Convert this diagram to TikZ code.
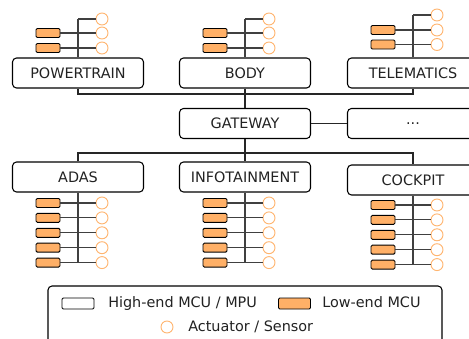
\documentclass[tikz,border=0pt]{standalone}
\usepackage{fontspec}
\setmainfont{DejaVu Sans}
\usepackage{tikz}
\usetikzlibrary{positioning}
\definecolor{mcuorange}{HTML}{FFB067}
\definecolor{sensororange}{HTML}{FFB570}
\definecolor{textgray}{HTML}{222222}

\begin{document}
\begin{tikzpicture}[x=0.75pt,y=-0.75pt]
    \tikzset{
        ecu/.style={draw, rounded corners=3pt, minimum width=98.25pt, minimum height=22.5pt,
            inner sep=0pt, line width=0.8pt, text=textgray, font=\fontsize{10.8}{13}\selectfont},
        lowmcu/.style={draw, fill=mcuorange, rounded corners=1pt, minimum width=18pt,
            minimum height=6.75pt, inner sep=0pt, line width=0.7pt},
        sensor/.style={circle, draw=sensororange, fill=white, minimum size=9pt, inner sep=0pt, line width=0.7pt},
        legendtext/.style={anchor=base west, inner sep=0pt, text=textgray, font=\fontsize{10.8}{13}\selectfont},
        bus/.style={line width=0.8pt, black!85},
        wire/.style={line width=0.8pt, black!75}
    }
    \useasboundingbox (0,0) rectangle (469,339);

    % Nodes
    \node (powertrain) [ecu] at (78,73) {POWERTRAIN};
    \node (body) [ecu] at (245,73) {BODY};
    \node (telematics) [ecu] at (413,73) {TELEMATICS};
    \node (gateway) [ecu] at (245,123.5) {GATEWAY};
    \node (dots) [ecu] at (413,123.5) {...};
    \node (adas) [ecu] at (78,177) {ADAS};
    \node (infotainment) [ecu] at (245,177) {INFOTAINMENT};
    \node (cockpit) [ecu] at (413,180) {COCKPIT};

    \coordinate (topbus) at (245,94);
    \coordinate (lowbus) at (245,153);

    % Arrows
    \draw [bus] (powertrain.south) -- (powertrain.south |- topbus) -| (telematics.south);
    \draw [bus] (body.south) -- (gateway.north);
    \draw [bus] (gateway) -- (dots);
    \draw [bus] (adas.north) -- (adas.north |- lowbus) -| (cockpit.north);
    \draw [bus] (gateway.south) -- (infotainment.north);

    % Upper ECUs
    \foreach \g/\x/\ya/\yb/\yc in {powertrain/78/19/33/48, body/245/19/33/48, telematics/413/15/30/44.5} {
        \coordinate (\g-top) at (\x,\ya);
        \draw [wire] (\g.north) -- (\g-top);
        \node (\g-s1) [sensor] at (\x+24,\ya) {};
        \node (\g-s2) [sensor] at (\x+24,\yb) {};
        \node (\g-s3) [sensor] at (\x+24,\yc) {};
        \node (\g-m2) [lowmcu] at (\x-30,\yb) {};
        \node (\g-m3) [lowmcu] at (\x-30,\yc) {};
        \draw [wire] (\g-top) -- (\g-s1);
        \draw [wire] (\g-m2) -- (\g-s2);
        \draw [wire] (\g-m3) -- (\g-s3);
    }

    % Lower ECUs
    \foreach \g/\x/\y in {adas/78/203, infotainment/245/203, cockpit/413/205} {
        \foreach \i in {1,...,5} {
            \node (\g-m\i) [lowmcu] at (\x-30,\y+14.9*\i-14.9) {};
            \node (\g-s\i) [sensor] at (\x+24,\y+14.9*\i-14.9) {};
            \draw [wire] (\g-m\i) -- (\g-s\i);
        }
        \draw [wire] (\g.south) -- (\g.south |- \g-s5);
    }

    % Legend
    \node (legend) [draw, rounded corners=3pt, line width=0.8pt, minimum width=295.5pt,
        minimum height=49.5pt] at (245,319) {};
    \node (key-high) [draw, rounded corners=1pt, line width=0.7pt, minimum width=24pt,
        minimum height=8.25pt, inner sep=0pt] at (78,303.5) {};
    \node (key-high-text) [legendtext] at (108,307.5) {High-end MCU / MPU};
    \node (key-low) [lowmcu, minimum width=24pt, minimum height=8.25pt] at (294.5,303.5) {};
    \node (key-low-text) [legendtext] at (322,307.5) {Low-end MCU};
    \node (key-sensor) [sensor] at (167,327) {};
    \node (key-sensor-text) [legendtext] at (188,331) {Actuator / Sensor};
\end{tikzpicture}
\end{document}
